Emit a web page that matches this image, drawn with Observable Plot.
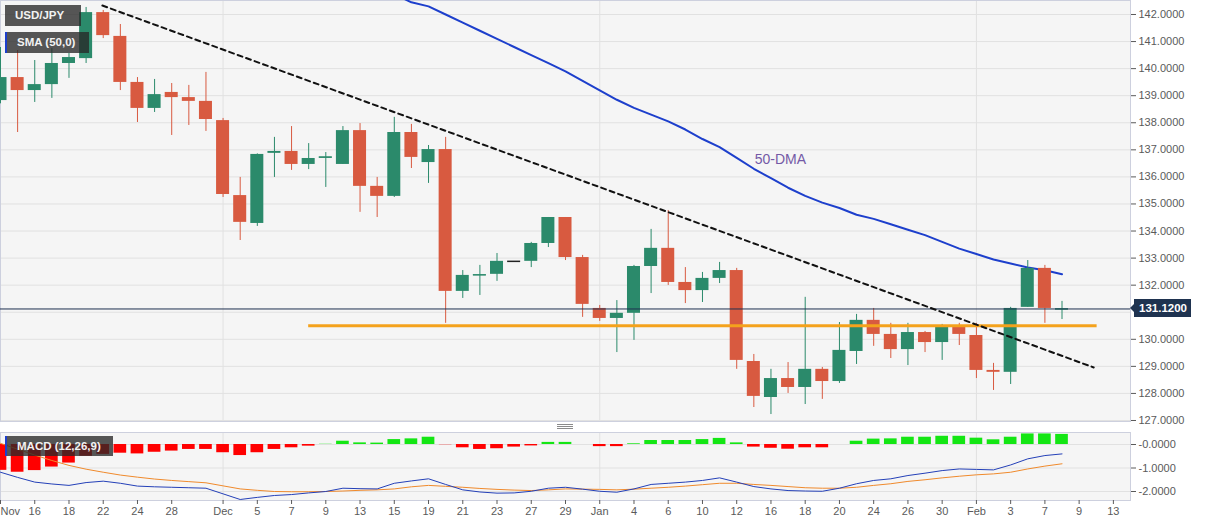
<!DOCTYPE html>
<html><head><meta charset="utf-8">
<script src="https://cdn.jsdelivr.net/npm/d3@7"></script>
<script src="https://cdn.jsdelivr.net/npm/@observablehq/plot@0.6"></script>
<style>
body{margin:0;background:#fff;font-family:"Liberation Sans",Arial,sans-serif;}
#wrap{position:relative;width:1207px;height:526px;overflow:hidden;background:#fff;}
#wrap svg{position:absolute;left:0;}
.box{position:absolute;background:rgba(40,40,40,0.78);color:#f2f2f2;font-weight:bold;font-size:11.5px;box-sizing:border-box;padding-left:10px;white-space:nowrap;}
.sep{position:absolute;left:557px;width:16px;height:1px;background:#8a8a8a;}
.tagp{position:absolute;background:#1f3350;color:#fff;font-weight:bold;font-size:11.5px;line-height:18px;height:18px;padding:0 4px 0 5px;}
.tagp:before{content:"";position:absolute;left:-4px;top:5px;border-top:4px solid transparent;border-bottom:4px solid transparent;border-right:4px solid #1f3350;}
</style></head><body><div id="wrap"></div><script>
// ---- data (trading-day index 0 = Nov 14, 2022) ----
const open  = [138.82,139.67,139.19,139.41,140.19,140.37,142.07,141.19,139.49,138.53,139.12,138.93,138.79,138.08,135.31,134.28,136.87,136.94,136.46,136.70,136.46,137.71,135.65,135.28,137.64,136.53,137.01,131.77,132.36,132.40,132.88,132.88,133.54,134.50,133.02,131.14,130.77,130.96,132.69,133.36,132.10,131.80,132.25,132.54,129.18,127.85,128.55,128.22,128.89,128.44,129.55,130.70,130.18,129.62,130.25,129.88,130.47,130.14,128.85,128.78,131.18,132.62,131.10];
const high  = [140.78,140.67,140.30,140.74,140.56,142.26,142.15,141.63,139.67,139.60,139.45,139.38,139.86,138.16,135.98,136.85,137.46,137.86,137.23,136.90,137.86,137.97,135.98,138.20,137.94,137.16,137.46,132.54,132.73,133.17,132.88,133.58,134.50,134.50,133.10,131.25,131.43,132.73,134.06,134.76,132.65,132.47,132.84,132.62,129.44,128.89,129.14,131.55,128.96,130.62,130.92,131.14,130.59,130.59,130.29,130.55,130.59,130.59,129.11,131.18,132.91,132.73,131.40];
const low   = [138.70,137.64,138.75,138.90,139.64,140.19,141.11,139.19,138.01,138.38,137.53,137.90,137.68,135.24,133.65,134.17,135.98,136.24,136.27,135.61,136.46,134.69,134.50,135.24,136.31,135.76,130.59,131.51,131.62,132.14,132.88,132.65,133.39,132.91,130.81,130.66,129.51,129.96,131.69,131.99,131.32,131.36,132.06,128.89,127.48,127.22,128.00,127.59,127.78,128.37,129.07,129.74,129.29,129.03,129.51,129.22,129.77,128.55,128.11,128.33,131.18,130.59,130.73];
const close = [139.67,139.19,139.41,140.19,140.41,142.07,141.22,139.49,138.53,139.04,138.93,138.79,138.12,135.35,134.32,136.83,136.94,136.46,136.68,136.73,137.71,135.65,135.28,137.64,136.72,137.01,131.77,132.36,132.38,132.88,132.88,133.54,134.50,133.02,131.29,130.77,130.96,132.69,133.36,132.10,131.80,132.25,132.54,129.22,127.89,128.55,128.22,128.89,128.44,129.59,130.70,130.18,129.62,130.25,129.88,130.44,130.18,128.85,128.78,131.14,132.62,131.14,131.12];
const smaStart = 23;
const sma50 = [142.75,142.45,142.3,142.0,141.7,141.4,141.1,140.8,140.5,140.2,139.9,139.55,139.2,138.85,138.55,138.3,138.05,137.75,137.4,137.1,136.7,136.3,135.95,135.6,135.3,135.05,134.85,134.6,134.45,134.25,134.05,133.85,133.6,133.35,133.15,132.95,132.8,132.65,132.55,132.4];
const macdHist = [-1.10,-1.18,-1.11,-0.96,-0.79,-0.50,-0.42,-0.37,-0.40,-0.33,-0.28,-0.21,-0.21,-0.35,-0.47,-0.35,-0.21,-0.14,-0.07,0.01,0.14,0.07,0.06,0.21,0.24,0.31,-0.01,-0.14,-0.21,-0.18,-0.11,-0.06,0.09,0.09,0.00,-0.09,-0.09,0.03,0.17,0.17,0.17,0.21,0.26,0.07,-0.11,-0.16,-0.20,-0.14,-0.14,0.00,0.14,0.23,0.24,0.31,0.31,0.35,0.35,0.27,0.20,0.31,0.45,0.45,0.43];
const macdLine = [-1.18,-1.40,-1.60,-1.68,-1.74,-1.62,-1.56,-1.65,-1.77,-1.80,-1.82,-1.84,-1.86,-2.10,-2.34,-2.25,-2.17,-2.13,-2.06,-2.00,-1.86,-1.88,-1.89,-1.65,-1.55,-1.46,-1.70,-1.93,-2.02,-2.07,-2.06,-1.99,-1.86,-1.82,-1.90,-1.99,-2.03,-1.89,-1.70,-1.65,-1.60,-1.53,-1.42,-1.60,-1.79,-1.89,-1.96,-1.98,-1.99,-1.86,-1.67,-1.53,-1.46,-1.32,-1.22,-1.11,-1.04,-1.06,-1.08,-0.87,-0.61,-0.47,-0.40];
const signalLine = [0.05,-0.20,-0.45,-0.68,-0.89,-1.05,-1.18,-1.30,-1.39,-1.47,-1.53,-1.58,-1.63,-1.76,-1.89,-1.95,-2.00,-2.01,-2.01,-2.00,-1.98,-1.95,-1.93,-1.89,-1.80,-1.74,-1.78,-1.82,-1.87,-1.91,-1.94,-1.96,-1.93,-1.89,-1.90,-1.91,-1.93,-1.90,-1.86,-1.82,-1.77,-1.71,-1.65,-1.65,-1.70,-1.74,-1.79,-1.84,-1.86,-1.86,-1.82,-1.74,-1.67,-1.57,-1.50,-1.42,-1.35,-1.29,-1.25,-1.18,-1.04,-0.92,-0.82];
const xTickIdx = [0,2,4,6,8,10,13,15,17,19,21,23,25,27,29,31,33,35,37,39,41,43,45,47,49,51,53,55,57,59,61,63,65];
const xTickLabels = ["Nov","16","18","22","24","28","Dec","5","7","9","13","15","19","21","23","27","29","Jan","4","6","10","12","16","18","20","24","26","30","Feb","3","7","9","13"];
const monthStarts = [13,35,57];
const priceGrid = [127,128,129,130,131,132,133,134,135,136,137,138,139,140,141,142];
const priceTicks = [127,128,129,130,132,133,134,135,136,137,138,139,140,141,142]; // 131 hidden behind price tag
const macdTicks = [0,-1,-2];
const macdTickLabels = ["-0.0000","-1.0000","-2.0000"];
const trendIdx = [5.95,63.85];
const trendPrice = [142.33,128.96];
const supportLevel = [{p:130.50, from:18.0, to:64.05}];
const currentPrice = 131.12;
const dmaLabel = [{i:44.05, p:136.64, text:"50-DMA"}];

// ---- build ----
const candles = open.map((o,i)=>({i, open:o, high:high[i], low:low[i], close:close[i]}));
const sma = sma50.map((v,k)=>({i:smaStart+k, v}));
const trend = trendIdx.map((x,k)=>({i:x, p:trendPrice[k]}));
const macdRows = macdHist.map((h,i)=>({i, hist:h, macd:macdLine[i], signal:signalLine[i]}));
const UP="#2b8a6b", DOWN="#d85a40", FLAT="#222";
const cc = d => d.close>d.open?UP:(d.close<d.open?DOWN:FLAT);
const font = '"Liberation Sans", Arial, sans-serif';
const HW = 0.38;

const main = Plot.plot({
  width:1207, height:422, marginTop:0, marginLeft:0, marginRight:77, marginBottom:1,
  style:{overflow:"visible", fontFamily:font, color:"#5a5a5a", background:"transparent", top:"0px"},
  x:{domain:[0,66], axis:null, label:null},
  y:{domain:[126.963,142.517], axis:null, label:null},
  marks:[
    Plot.frame({fill:"#f5f5f5", stroke:null}),
    Plot.ruleY(priceGrid, {stroke:"#e1e1e1"}),
    Plot.ruleX(monthStarts, {stroke:"#e1e1e1"}),
    Plot.frame({stroke:"#cdd0de"}),
    Plot.axisY({anchor:"right", ticks:priceTicks, tickFormat:d=>d.toFixed(4), tickSize:5, tickPadding:3, fontSize:11, label:null}),
    Plot.line(sma, {x:"i", y:"v", stroke:"#1d3fcc", strokeWidth:2, clip:true}),
    Plot.ruleX(candles, {x:"i", y1:"low", y2:"high", stroke:cc, strokeWidth:1}),
    Plot.rect(candles, {x1:d=>d.i-HW, x2:d=>d.i+HW, y1:"open", y2:"close", fill:cc}),
    Plot.ruleY(candles.filter(d=>Math.abs(d.close-d.open)<0.06), {y:"close", x1:d=>d.i-HW, x2:d=>d.i+HW, stroke:cc, strokeWidth:1.5}),
    Plot.ruleY([currentPrice], {stroke:"#1e3050", strokeWidth:1}),
    Plot.ruleY(supportLevel, {y:"p", x1:"from", x2:"to", stroke:"#f4a21c", strokeWidth:3}),
    Plot.line(trend, {x:"i", y:"p", stroke:"#111", strokeWidth:2, strokeDasharray:"5,4"}),
    Plot.text(dmaLabel, {x:"i", y:"p", text:"text", textAnchor:"start", fill:"#7459a6", fontSize:14})
  ]
});

const macd = Plot.plot({
  width:1207, height:94, marginTop:0, marginLeft:0, marginRight:77, marginBottom:26,
  style:{overflow:"visible", fontFamily:font, color:"#5a5a5a", background:"transparent", top:"432px"},
  x:{domain:[0,66], axis:null, label:null},
  y:{domain:[-2.383,0.511], axis:null, label:null},
  marks:[
    Plot.frame({fill:"#f5f5f5", stroke:null}),
    Plot.ruleY(macdTicks, {stroke:"#e1e1e1"}),
    Plot.ruleX(monthStarts, {stroke:"#e1e1e1"}),
    Plot.frame({stroke:"#cdd0de"}),
    Plot.rect(macdRows, {x1:d=>d.i-0.37, x2:d=>d.i+0.37, y1:d=>0, y2:"hist", fill:d=>d.hist>=0?"#14e614":"#ff0000"}),
    Plot.line(macdRows, {x:"i", y:"signal", stroke:"#f08a2c", strokeWidth:1}),
    Plot.line(macdRows, {x:"i", y:"macd", stroke:"#2440b8", strokeWidth:1}),
    Plot.axisY({anchor:"right", ticks:macdTicks, tickFormat:d=>macdTickLabels[macdTicks.indexOf(d)], tickSize:5, tickPadding:3, fontSize:11, label:null}),
    Plot.axisX({ticks:xTickIdx.slice(1), tickFormat:d=>xTickLabels[xTickIdx.indexOf(d)], tickSize:4, tickPadding:3, fontSize:11, label:null}),
    Plot.axisX({ticks:xTickIdx.slice(0,1), tickFormat:d=>xTickLabels[xTickIdx.indexOf(d)], tickSize:4, tickPadding:3, fontSize:11, textAnchor:"start", label:null})
  ]
});

const wrap = document.getElementById("wrap");
wrap.appendChild(main);
wrap.appendChild(macd);

// separator handle
[424,426,428].forEach(t=>{const s=document.createElement("div");s.className="sep";s.style.top=t+"px";wrap.appendChild(s);});

// legend boxes
function box(text,left,top,w,h,stripe){
  const b=document.createElement("div");b.className="box";b.textContent=text;
  Object.assign(b.style,{left:left+"px",top:top+"px",width:w+"px",height:h+"px",lineHeight:h+"px"});
  if(stripe) b.style.borderLeft="2px solid "+stripe;
  wrap.appendChild(b);
}
box("USD/JPY",5,5,76,21,null);
box("SMA (50,0)",5,32,84,21,"#1d3fcc");
box("MACD (12,26,9)",5,436,108,20,"#1d3fcc");

// current price tag
const yp = main.scale("y").apply(currentPrice);
const tag=document.createElement("div");tag.className="tagp";tag.textContent=currentPrice.toFixed(4);
Object.assign(tag.style,{left:"1134px",top:(yp-9)+"px"});
wrap.appendChild(tag);
</script></body></html>
